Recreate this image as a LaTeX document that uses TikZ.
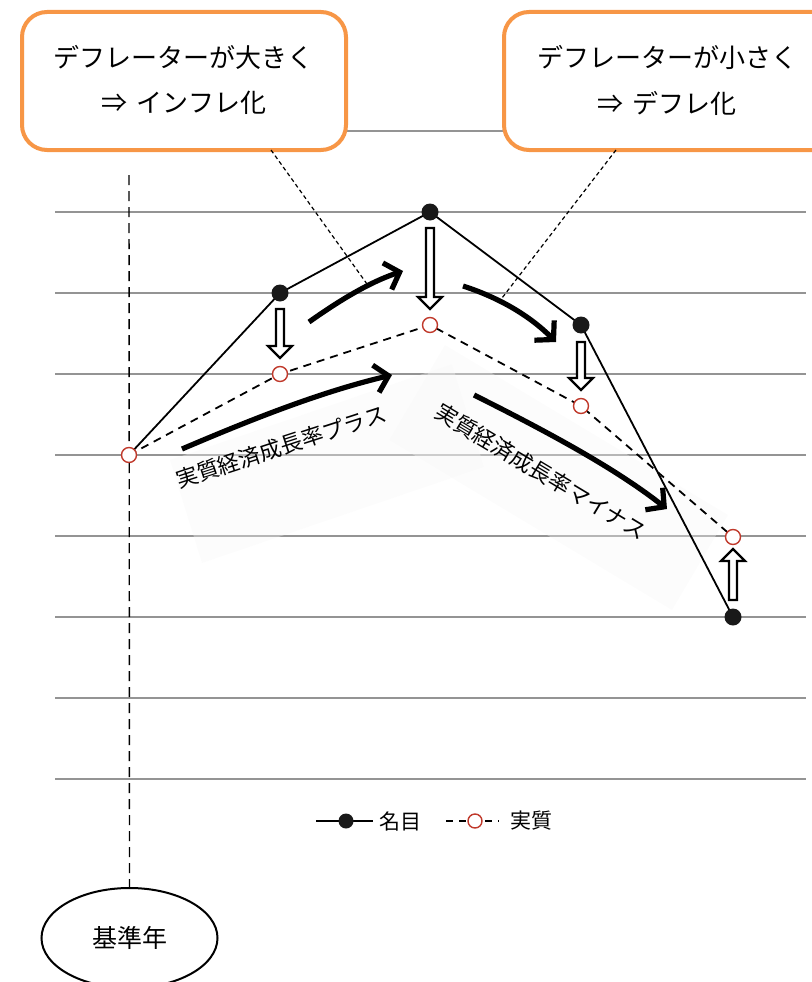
\documentclass[tikz,border=0pt]{standalone}
\usepackage{fontspec}
\setmainfont{Noto Sans CJK JP}
\usetikzlibrary{arrows.meta,shapes.geometric}
\definecolor{boxorange}{HTML}{F79646}
\definecolor{realred}{HTML}{C0392B}
\begin{document}
\begin{tikzpicture}[x=1pt,y=-1pt,
  gridline/.style={draw=black!42,line width=1.8pt},
  nomline/.style={line width=1.8pt},
  realline/.style={line width=1.8pt,dash pattern=on 8pt off 6pt},
  ndot/.style={circle,fill=black!90,inner sep=0pt,minimum size=17pt},
  rdot/.style={circle,draw=realred,fill=white,line width=1.4pt,inner sep=0pt,minimum size=15pt},
  callbox/.style={draw=boxorange,rounded corners=25pt,line width=4pt,fill=white},
  boxtext/.style={font=\fontsize{26}{30}\selectfont,inner sep=0pt},
  callout/.style={line width=1.2pt,dash pattern=on 4pt off 3pt},
  bigarrow/.style={line width=5.2pt,-{Straight Barb[length=13pt,width=28pt]}},
  hollow/.style={draw=black,line width=2.2pt,fill=white,line join=miter},
  rottext/.style={font=\fontsize{22}{24}\selectfont,inner sep=0pt},
  faint/.style={fill=black!3,fill opacity=0.35,draw=none},
  legtext/.style={font=\fontsize{21}{24}\selectfont,inner sep=0pt}
]
\useasboundingbox (0,0) rectangle (811,982);

% grid
\foreach \yy in {131,212,293,374,455,536,617,698,779}
  \draw[gridline] (55,\yy) -- (806,\yy);

% faint label backgrounds
\fill[faint] (170,460) -- (452,364) -- (484,467) -- (202,563) -- cycle;
\fill[faint] (445,345) -- (728,515) -- (672,610) -- (389,440) -- cycle;

% base-year dashed line and ellipse
\node[ellipse,draw,line width=2pt,minimum width=176pt,minimum height=100pt,inner sep=0pt,font=\fontsize{25}{28}\selectfont] (base) at (129.5,938) {基準年};
\coordinate (vtop) at (129,175);
\draw[line width=1.4pt,dash pattern=on 10pt off 6pt] (vtop) -- (base.north);

% boxes
\draw[callbox] (22,12) rectangle (346,150);
\draw[callbox] (504,12) rectangle (840,150);
\node[boxtext] (b1a) at (183,57) {デフレーターが大きく};
\node[boxtext] (b1b) at (184,103) {⇒\hspace{0.35em}インフレ化};
\node[boxtext] (b2a) at (667,57) {デフレーターが小さく};
\node[boxtext] (b2b) at (667,103) {⇒\hspace{0.35em}デフレ化};

% callout lines
\coordinate (c1a) at (271,150);
\coordinate (c1b) at (367,284);
\coordinate (c2a) at (616,150);
\coordinate (c2b) at (502,298);
\draw[callout] (c1a) -- (c1b);
\draw[callout] (c2a) -- (c2b);

% points
\coordinate (s) at (129,455);
\coordinate (n1) at (280,293);
\coordinate (n2) at (430,212);
\coordinate (n3) at (581,325);
\coordinate (n4) at (733,617);
\coordinate (r1) at (280,374);
\coordinate (r2) at (430,325);
\coordinate (r3) at (581,406);
\coordinate (r4) at (733,537);

\draw[nomline] (s) -- (n1) -- (n2) -- (n3) -- (n4);
\draw[realline] (s) -- (r1) -- (r2) -- (r3) -- (r4);

% hollow arrows
\draw[hollow,shift={(280,309)}] (-4,0) -- (4,0) -- (4,37) -- (12,37) -- (0,49) -- (-12,37) -- (-4,37) -- cycle;
\draw[hollow,shift={(430,228)}] (-4,0) -- (4,0) -- (4,69) -- (12,69) -- (0,81) -- (-12,69) -- (-4,69) -- cycle;
\draw[hollow,shift={(581,342)}] (-4,0) -- (4,0) -- (4,36) -- (12,36) -- (0,48) -- (-12,36) -- (-4,36) -- cycle;
\draw[hollow,shift={(733,600)}] (-4,0) -- (4,0) -- (4,-39) -- (12,-39) -- (0,-51) -- (-12,-39) -- (-4,-39) -- cycle;

% dots
\node[rdot] (S) at (s) {};
\foreach \p in {n1,n2,n3,n4} \node[ndot] at (\p) {};
\foreach \p in {r1,r2,r3,r4} \node[rdot] at (\p) {};

% big curved arrows
\coordinate (a1s) at (309,322);
\coordinate (a1e) at (403,271);
\coordinate (a2s) at (182,449);
\coordinate (a2e) at (392,375);
\coordinate (a3s) at (463,286);
\coordinate (a3e) at (556,342);
\coordinate (a4s) at (474,395);
\coordinate (a4e) at (667,509);
\draw[bigarrow] (a1s) .. controls (340,300) and (370,282) .. (a1e);
\draw[bigarrow] (a2s) .. controls (250,420) and (320,392) .. (a2e);
\draw[bigarrow] (a3s) .. controls (500,298) and (530,316) .. (a3e);
\draw[bigarrow] (a4s) .. controls (560,438) and (620,472) .. (a4e);

% rotated labels
\node[rottext,rotate=18] (plus) at (281,447) {実質経済成長率プラス};
\node[rottext,rotate=-31] (minus) at (541,472) {実質経済成長率マイナス};

% legend
\coordinate (l1a) at (316,821);
\coordinate (l1b) at (373,821);
\coordinate (l2a) at (446,821);
\coordinate (l2b) at (499,821);
\draw[nomline] (l1a) -- (l1b);
\node[ndot,minimum size=15pt] (lnd) at (346,821) {};
\node[legtext] (lt1) at (400,821) {名目};
\draw[realline,dash pattern=on 7pt off 6pt] (l2a) -- (l2b);
\node[rdot,minimum size=14pt] (lrd) at (475,821) {};
\node[legtext] (lt2) at (531,821) {実質};
\end{tikzpicture}
\end{document}
